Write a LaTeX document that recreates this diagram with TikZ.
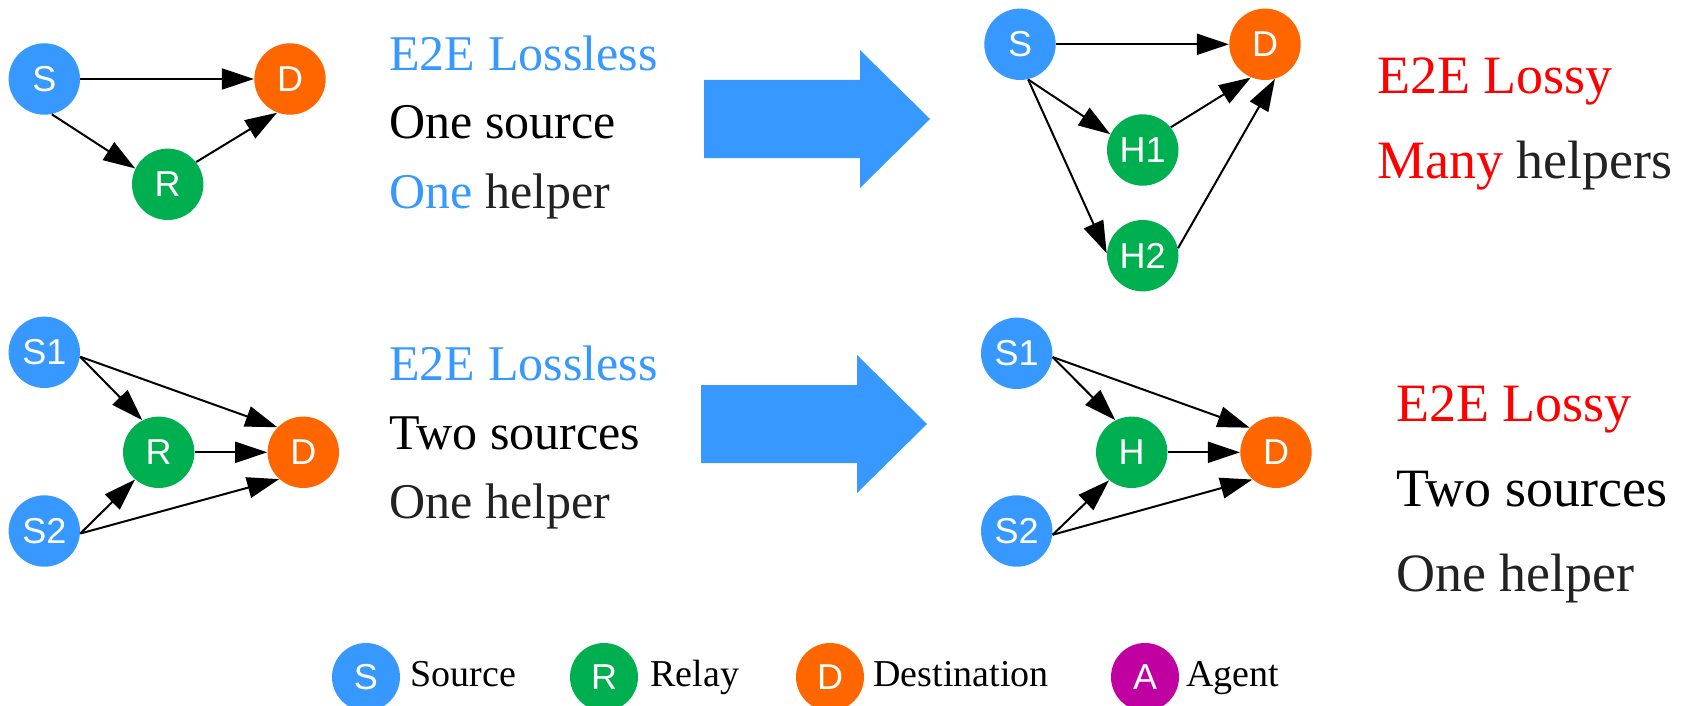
\documentclass[tikz,border=0pt]{standalone}
\usepackage{fontspec}
\setmainfont{Liberation Serif}
\newfontfamily\nodefont{Liberation Sans}
\usetikzlibrary{arrows.meta}

\definecolor{srcblue}{HTML}{3799FF}
\definecolor{relgreen}{HTML}{00B050}
\definecolor{dstorange}{HTML}{FF6600}
\definecolor{agtmagenta}{HTML}{C000A0}
\definecolor{lossred}{HTML}{FF0000}
\definecolor{darktext}{HTML}{222222}

\begin{document}
\begin{tikzpicture}[x=0.5pt,y=-0.5pt,
  vtx/.style={circle, minimum size=35.7pt, inner sep=0pt, text=white,
    font=\nodefont\fontsize{18}{18}\selectfont},
  src/.style={vtx, fill=srcblue},
  rel/.style={vtx, fill=relgreen},
  dst/.style={vtx, fill=dstorange},
  agt/.style={vtx, fill=agtmagenta},
  link/.style={line width=1pt, -{Triangle[length=16pt,width=10.5pt]}},
  bigarrow/.style={fill=srcblue},
  lbl/.style={anchor=base west, inner sep=0pt, font=\fontsize{25}{25}\selectfont},
  lblr/.style={anchor=base west, inner sep=0pt, font=\fontsize{27}{27}\selectfont},
  legtext/.style={anchor=base west, inner sep=0pt, font=\fontsize{19}{19}\selectfont},
]
\useasboundingbox (0,0) rectangle (1686,706);
\clip (0,0) rectangle (1686,706);

% ---- one source, one relay ----
\node[src] (a-s) at (44.3,79) {S};
\node[dst] (a-d) at (290,79) {D};
\node[rel] (a-r) at (167.7,184.3) {R};
\draw[link] (a-s.east) -- (a-d.west);
\draw[link] (a-s.-78) -- (a-r.154);
\draw[link] (a-r.38) -- (a-d.-111);

\node[lbl, text=srcblue] (a-t1) at (389,70.7) {E2E Lossless};
\node[lbl] (a-t2) at (389,139) {One source};
\node[lbl] (a-t3) at (389,208) {\textcolor{srcblue}{One} \textcolor{darktext}{helper}};

\path[bigarrow] (704,80) -- (860,80) -- (860,50) -- (930,119) -- (860,188)
  -- (860,158) -- (704,158) -- cycle;

% ---- one source, many helpers ----
\node[src] (b-s) at (1020,44.3) {S};
\node[dst] (b-d) at (1265,44.3) {D};
\node[rel] (b-h1) at (1142.7,150) {H1};
\node[rel] (b-h2) at (1142.7,255.7) {H2};
\draw[link] (b-s.east) -- (b-d.west);
\draw[link] (b-s.-77) -- (b-h1.154);
\draw[link] (b-s.-77) -- (b-h2.176);
\draw[link] (b-h1.39) -- (b-d.-113);
\draw[link] (b-h2.12) -- (b-d.-74);

\node[lblr, text=lossred] (b-t1) at (1377,93.3) {E2E Lossy};
\node[lblr] (b-t2) at (1377,178) {\textcolor{lossred}{Many} \textcolor{darktext}{helpers}};

% ---- two sources, one relay ----
\node[src] (c-s1) at (44.3,352.3) {S1};
\node[src] (c-s2) at (44.3,531) {S2};
\node[rel] (c-r) at (158.7,452.3) {R};
\node[dst] (c-d) at (303.3,452.3) {D};
\draw[link] (c-s1.-7) -- (c-r.117);
\draw[link] (c-s1.-7) -- (c-d.136);
\draw[link] (c-r.east) -- (c-d.west);
\draw[link] (c-s2.-4) -- (c-r.-131);
\draw[link] (c-s2.-4) -- (c-d.-132);

\node[lbl, text=srcblue] (c-t1) at (389,380.7) {E2E Lossless};
\node[lbl] (c-t2) at (389,449) {Two sources};
\node[lbl, text=darktext] (c-t3) at (389,518) {One helper};

\path[bigarrow] (701,385) -- (857,385) -- (857,355) -- (927,424) -- (857,493)
  -- (857,463) -- (701,463) -- cycle;

% ---- two sources, one helper ----
\node[src] (d-s1) at (1016.7,353.3) {S1};
\node[src] (d-s2) at (1016.7,531) {S2};
\node[rel] (d-h) at (1131.7,452.3) {H};
\node[dst] (d-d) at (1276,452.3) {D};
\draw[link] (d-s1.-6) -- (d-h.117);
\draw[link] (d-s1.-6) -- (d-d.137);
\draw[link] (d-h.east) -- (d-d.west);
\draw[link] (d-s2.-6) -- (d-h.-129);
\draw[link] (d-s2.-6) -- (d-d.-131);

\node[lblr, text=lossred] (d-t1) at (1396,421.7) {E2E Lossy};
\node[lblr] (d-t2) at (1396,506.7) {Two sources};
\node[lblr, text=darktext] (d-t3) at (1396,591) {One helper};

% ---- legend ----
\node[src, minimum size=34pt] (k-s) at (366,677) {S};
\node[legtext] (k-st) at (410,686.7) {Source};
\node[rel, minimum size=34pt] (k-r) at (604,677) {R};
\node[legtext] (k-rt) at (650,686.7) {Relay};
\node[dst, minimum size=34pt] (k-d) at (830,677) {D};
\node[legtext] (k-dt) at (873,686.7) {Destination};
\node[agt, minimum size=34pt] (k-a) at (1145,677) {A};
\node[legtext] (k-at) at (1186,686.7) {Agent};
\end{tikzpicture}
\end{document}
